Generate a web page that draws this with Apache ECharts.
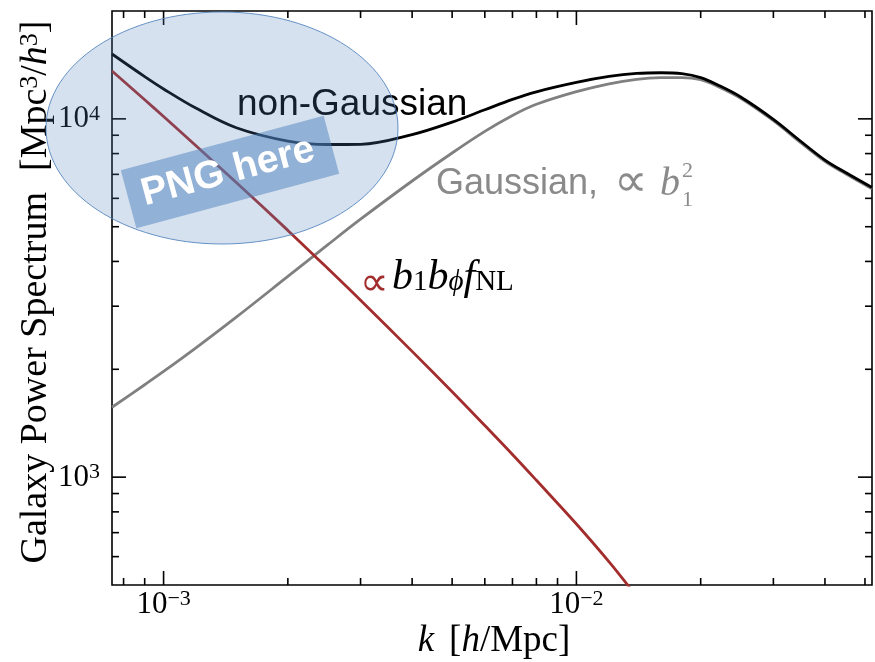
<!DOCTYPE html>
<html>
<head>
<meta charset="utf-8">
<script src="https://cdn.jsdelivr.net/npm/echarts@6/dist/echarts.min.js"></script>
<style>
  html, body { margin: 0; padding: 0; background: #fff; }
  #chart { width: 875px; height: 662px; }
</style>
</head>
<body>
<div id="chart"></div>
<script>
const kValues = [0.00075, 0.0009, 0.001, 0.0012, 0.0015, 0.002, 0.0025, 0.003, 0.004, 0.005,
  0.006, 0.007, 0.008, 0.01, 0.012, 0.014, 0.016, 0.018, 0.02, 0.022, 0.025, 0.03, 0.035, 0.04, 0.045, 0.052];
// galaxy power spectrum [Mpc^3/h^3]
const nonGaussian = [15170, 13120, 12120, 10700, 9442, 8668, 8480, 8492, 9036, 9791,
  10600, 11330, 11900, 12640, 13130, 13390, 13450, 13370, 13040, 12435, 11510, 9968, 8645, 7674, 7071, 6435];
const gaussian = [1567, 1811, 1972, 2299, 2796, 3633, 4454, 5246, 6707, 8030,
  9224, 10220, 10980, 11910, 12530, 12890, 13030, 13040, 12860, 12315, 11412, 9885, 8573, 7609, 7015, 6383];
// the b1 b_phi fNL term, runs off the bottom after k ~ 0.013
const fnlTerm = [13600, 11310, 10150, 8400, 6646, 4883, 3821, 3118, 2244, 1731,
  1393, 1157, 980, 740, 580, 464];

const xMin = 0.00075, xMax = 0.052;
const yMin = 500, yMax = 20000;
const xMajorTicks = [0.001, 0.01];
const xMinorTicks = [0.0008, 0.0009, 0.002, 0.003, 0.004, 0.005, 0.006, 0.007, 0.008, 0.009,
  0.02, 0.03, 0.04, 0.05];
const yMajorTicks = [1000, 10000];
const yMinorTicks = [600, 700, 800, 900, 2000, 3000, 4000, 5000, 6000, 7000, 8000, 9000];

const serif = 'Liberation Serif';
const sans = 'Liberation Sans';
const red = '#a32d2d';
const grey = '#8a8a8a';

function pairs(ys) {
  return ys.map(function (y, i) { return [kValues[i], y]; });
}

function powLabel(v) {
  const e = Math.log10(v);
  if (Math.abs(e - Math.round(e)) > 1e-6) return '';
  return '{b|10}{s|' + String(Math.round(e)).replace('-', '\u2212') + '}';
}

const labelRich = {
  b: { fontFamily: serif, fontSize: 31, lineHeight: 32, verticalAlign: 'bottom', color: '#000' },
  s: { fontFamily: serif, fontSize: 22, lineHeight: 14, verticalAlign: 'top', color: '#000' }
};

// inward ticks on all four sides of the box
function tickSeries(values, dir, len) {
  return {
    type: 'custom',
    silent: true,
    clip: false,
    z: 5,
    data: values.map(function (v) { return dir === 'x' ? [v, yMin] : [xMin, v]; }),
    renderItem: function (params, api) {
      const r = params.coordSys;
      const p = api.coord([api.value(0), api.value(1)]);
      const st = { stroke: '#000', lineWidth: 1.6 };
      if (dir === 'x') {
        return { type: 'group', children: [
          { type: 'line', shape: { x1: p[0], y1: r.y + r.height, x2: p[0], y2: r.y + r.height - len }, style: st },
          { type: 'line', shape: { x1: p[0], y1: r.y, x2: p[0], y2: r.y + len }, style: st }
        ] };
      }
      return { type: 'group', children: [
        { type: 'line', shape: { x1: r.x, y1: p[1], x2: r.x + len, y2: p[1] }, style: st },
        { type: 'line', shape: { x1: r.x + r.width, y1: p[1], x2: r.x + r.width - len, y2: p[1] }, style: st }
      ] };
    }
  };
}

const chart = echarts.init(document.getElementById('chart'));

const option = {
  animation: false,
  backgroundColor: '#fff',
  grid: { left: 112, right: 1, top: 11, bottom: 77, show: true, borderColor: '#000', borderWidth: 1.6, backgroundColor: 'transparent' },
  xAxis: {
    type: 'log', logBase: 10, min: xMin, max: xMax,
    axisLine: { show: false }, axisTick: { show: false }, splitLine: { show: false },
    axisLabel: { margin: 3, formatter: powLabel, rich: labelRich }
  },
  yAxis: {
    type: 'log', logBase: 10, min: yMin, max: yMax,
    axisLine: { show: false }, axisTick: { show: false }, splitLine: { show: false },
    axisLabel: { margin: 12, formatter: powLabel, rich: labelRich }
  },
  series: [
    { name: 'Gaussian', type: 'line', data: pairs(gaussian), showSymbol: false, smooth: 0.35,
      lineStyle: { color: '#808080', width: 2.8 }, z: 2 },
    { name: 'fNL', type: 'line', data: pairs(fnlTerm), showSymbol: false, smooth: 0.35, clip: true,
      lineStyle: { color: red, width: 2.8 }, z: 3 },
    { name: 'non-Gaussian', type: 'line', data: pairs(nonGaussian), showSymbol: false, smooth: 0.35,
      lineStyle: { color: '#000', width: 2.8 }, z: 4 },
    tickSeries(xMajorTicks, 'x', 14),
    tickSeries(xMinorTicks, 'x', 7),
    tickSeries(yMajorTicks, 'y', 14),
    tickSeries(yMinorTicks, 'y', 7)
  ],
  graphic: [
    // axis titles
    { type: 'text', x: 36, y: 292, rotation: Math.PI / 2, z: 50,
      style: {
        text: '{r|Galaxy Power Spectrum}{g| }{r|[Mpc}{s|3}{r|/}{i|h}{s|3}{r|]}',
        align: 'center', verticalAlign: 'middle',
        rich: {
          r: { fontFamily: serif, fontSize: 38, lineHeight: 38, verticalAlign: 'bottom', color: '#000' },
          i: { fontFamily: serif, fontStyle: 'italic', fontSize: 38, lineHeight: 38, verticalAlign: 'bottom', color: '#000' },
          g: { fontFamily: serif, fontSize: 38, width: 21, lineHeight: 38, verticalAlign: 'bottom' },
          s: { fontFamily: serif, fontSize: 26, lineHeight: 19, verticalAlign: 'top', color: '#000' }
        }
      } },
    { type: 'text', x: 494, y: 641, z: 50,
      style: {
        text: '{i|k}{g| }{r|[}{i|h}{r|/Mpc]}',
        align: 'center', verticalAlign: 'middle',
        rich: {
          r: { fontFamily: serif, fontSize: 37, lineHeight: 37, color: '#000' },
          i: { fontFamily: serif, fontStyle: 'italic', fontSize: 37, lineHeight: 37, color: '#000' },
          g: { fontFamily: serif, fontSize: 37, width: 15, lineHeight: 37 }
        }
      } },
    // curve labels
    { type: 'text', x: 237, y: 105, z: 50,
      style: { text: 'non-Gaussian', font: '37px "' + sans + '"', fill: '#000', align: 'left', verticalAlign: 'middle' } },
    { type: 'text', x: 436, y: 184, z: 50,
      style: { text: 'Gaussian,', font: '36px "' + sans + '"', fill: grey, align: 'left', verticalAlign: 'middle' } },
    { type: 'text', x: 614, y: 184, z: 50,
      style: { text: '\u221D', font: '47px "' + serif + '"', fill: grey, align: 'left', verticalAlign: 'middle' } },
    { type: 'text', x: 660, y: 184, z: 50,
      style: { text: 'b', font: 'italic 40px "' + serif + '"', fill: grey, align: 'left', verticalAlign: 'middle' } },
    { type: 'text', x: 682, y: 171, z: 50,
      style: { text: '2', font: '22px "' + serif + '"', fill: grey, align: 'left', verticalAlign: 'middle' } },
    { type: 'text', x: 682, y: 200, z: 50,
      style: { text: '1', font: '22px "' + serif + '"', fill: grey, align: 'left', verticalAlign: 'middle' } },
    { type: 'text', x: 360, y: 284, z: 50,
      style: { text: '\u221D', font: '40px "' + serif + '"', fill: red, align: 'left', verticalAlign: 'middle' } },
    { type: 'text', x: 392, y: 277, z: 50,
      style: {
        text: '{i|b}{d|1}{i|b}{di|\u03D5}{i|f}{d|NL}',
        align: 'left', verticalAlign: 'middle',
        rich: {
          i: { fontFamily: serif, fontStyle: 'italic', fontSize: 42, lineHeight: 40, verticalAlign: 'top', color: red },
          d: { fontFamily: serif, fontSize: 29, lineHeight: 14, verticalAlign: 'bottom', color: red },
          di: { fontFamily: serif, fontStyle: 'italic', fontSize: 29, lineHeight: 14, verticalAlign: 'bottom', color: red }
        }
      } },
    // "PNG here" placeholder overlay
    { type: 'ellipse', z: 100, shape: { cx: 222, cy: 128, rx: 176, ry: 116 },
      style: { fill: 'rgba(79,129,189,0.24)', stroke: 'rgba(79,129,189,0.85)', lineWidth: 1 } },
    { type: 'rect', z: 101, x: 230, y: 172, rotation: 15 * Math.PI / 180,
      shape: { x: -105, y: -30, width: 210, height: 60 },
      style: { fill: 'rgba(79,129,189,0.5)' } },
    { type: 'text', z: 102, x: 228, y: 172, rotation: 15 * Math.PI / 180,
      style: { text: 'PNG here', font: 'bold 39px "' + sans + '"', fill: '#fff', align: 'center', verticalAlign: 'middle' } }
  ]
};

chart.setOption(option);
</script>
</body>
</html>
